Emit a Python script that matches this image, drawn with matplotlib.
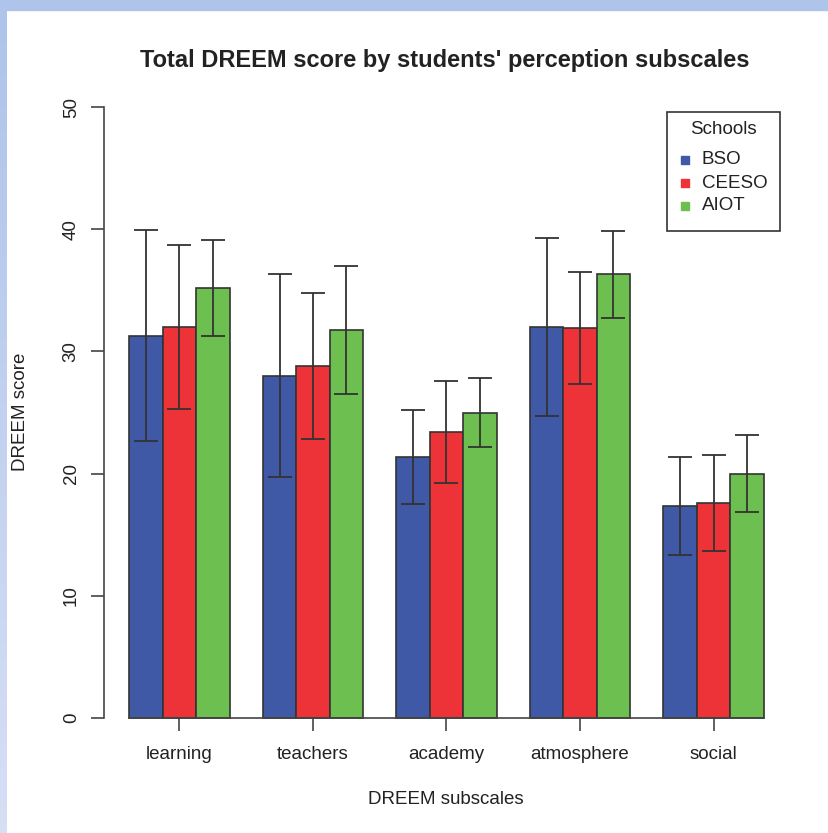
import numpy as np
import matplotlib
matplotlib.use("Agg")
import matplotlib.pyplot as plt
from matplotlib.lines import Line2D
from matplotlib.patches import Rectangle
from matplotlib.colors import LinearSegmentedColormap

plt.rcParams['font.family'] = ['Liberation Sans', 'DejaVu Sans']

# Mean DREEM subscale scores and standard deviations per school
subscales = ['learning', 'teachers', 'academy', 'atmosphere', 'social']
schools = ['BSO', 'CEESO', 'AIOT']
means_bso = [31.3, 28.0, 21.35, 32.0, 17.35]
means_ceeso = [32.0, 28.8, 23.4, 31.9, 17.6]
means_aiot = [35.2, 31.75, 25.0, 36.3, 20.0]
sd_bso = [8.6, 8.3, 3.85, 7.25, 4.0]
sd_ceeso = [6.7, 6.0, 4.2, 4.6, 3.9]
sd_aiot = [3.95, 5.2, 2.8, 3.55, 3.15]
colors = ['#4059a6', '#ed3338', '#6dbf4f']

means = [means_bso, means_ceeso, means_aiot]
sds = [sd_bso, sd_ceeso, sd_aiot]

W, H, DPI = 829, 833, 100
fig = plt.figure(figsize=(W / DPI, H / DPI), dpi=DPI)


def px(x, y):
    # pixel position (from top-left) to figure fraction
    return x / W, 1 - y / H


# light blue frame along the top and left edges
fig.patches.append(Rectangle((0, 1 - 10 / H), 1, 10 / H, transform=fig.transFigure,
                             color='#aec4ea', zorder=0))
band = fig.add_axes([0, 0, 7 / W, 1 - 10 / H])
band.imshow(np.linspace(0, 1, 100).reshape(-1, 1), aspect='auto',
            cmap=LinearSegmentedColormap.from_list('edge', ['#aec4ea', '#d6dff4']))
band.axis('off')

# plot region in pixels: x 104..789, y 82.6..742.4
ax = fig.add_axes([104 / W, 1 - 742.4 / H, 685 / W, 659.8 / H])

# R-style beside barplot: bar width 1, one unit of space before each group
for j in range(3):
    x = [1 + 4 * i + j + 0.5 for i in range(len(subscales))]
    ax.bar(x, means[j], width=1.0, color=colors[j], edgecolor='#333333',
           linewidth=1.2, zorder=2)
    ax.errorbar(x, means[j], yerr=sds[j], fmt='none', ecolor='#333333',
                elinewidth=1.3, capsize=8.6, capthick=1.3, zorder=3)

centers = [1 + 4 * i + 1.5 for i in range(len(subscales))]
ax.set_xlim(0.24, 20.76)
ax.set_ylim(-2, 52)

for s in ['top', 'right']:
    ax.spines[s].set_visible(False)
ax.spines['left'].set_bounds(0, 50)
ax.spines['left'].set_color('#444444')
ax.spines['left'].set_linewidth(1.2)
ax.spines['bottom'].set_position(('data', 0))
ax.spines['bottom'].set_bounds(1, 20)
ax.spines['bottom'].set_color('#444444')
ax.spines['bottom'].set_linewidth(1.2)

ax.set_yticks([0, 10, 20, 30, 40, 50])
ax.set_yticklabels(['0', '10', '20', '30', '40', '50'], rotation=90, va='center')
ax.set_xticks(centers)
ax.set_xticklabels(subscales)
ax.tick_params(axis='y', length=9.4, width=1.2, color='#444444', pad=8,
               labelsize=13.5, labelcolor='#222222')
ax.tick_params(axis='x', length=9.4, width=1.2, color='#444444', pad=10.5,
               labelsize=13.5, labelcolor='#222222')

fig.text(*px(445, 60), "Total DREEM score by students' perception subscales",
         ha='center', va='center', fontsize=17, fontweight='bold', color='#222222')
fig.text(*px(446, 800), 'DREEM subscales', ha='center', va='center',
         fontsize=13.5, color='#222222')
fig.text(*px(21, 412), 'DREEM score', ha='center', va='center',
         rotation=90, fontsize=13.5, color='#222222')

# legend box with the school colours
x0, y0 = px(667, 231)
x1, y1 = px(780, 112)
fig.patches.append(Rectangle((x0, y0), x1 - x0, y1 - y0, transform=fig.transFigure,
                             facecolor='white', edgecolor='#333333', linewidth=1.2,
                             zorder=5))
fig.text(*px(723, 130), 'Schools', ha='center', va='center', fontsize=13.5,
         color='#222222', zorder=6)
for k, (name, c) in enumerate(zip(schools, colors)):
    yk = 160 + 23 * k
    mx, my = px(685, yk)
    fig.add_artist(Line2D([mx], [my], marker='s', markersize=6, markerfacecolor=c,
                          markeredgecolor=c, linestyle='none',
                          transform=fig.transFigure, zorder=6))
    fig.text(*px(702, yk), name, ha='left', va='center', fontsize=13.5,
             color='#222222', zorder=6)

fig.savefig('out.png', dpi=DPI)
